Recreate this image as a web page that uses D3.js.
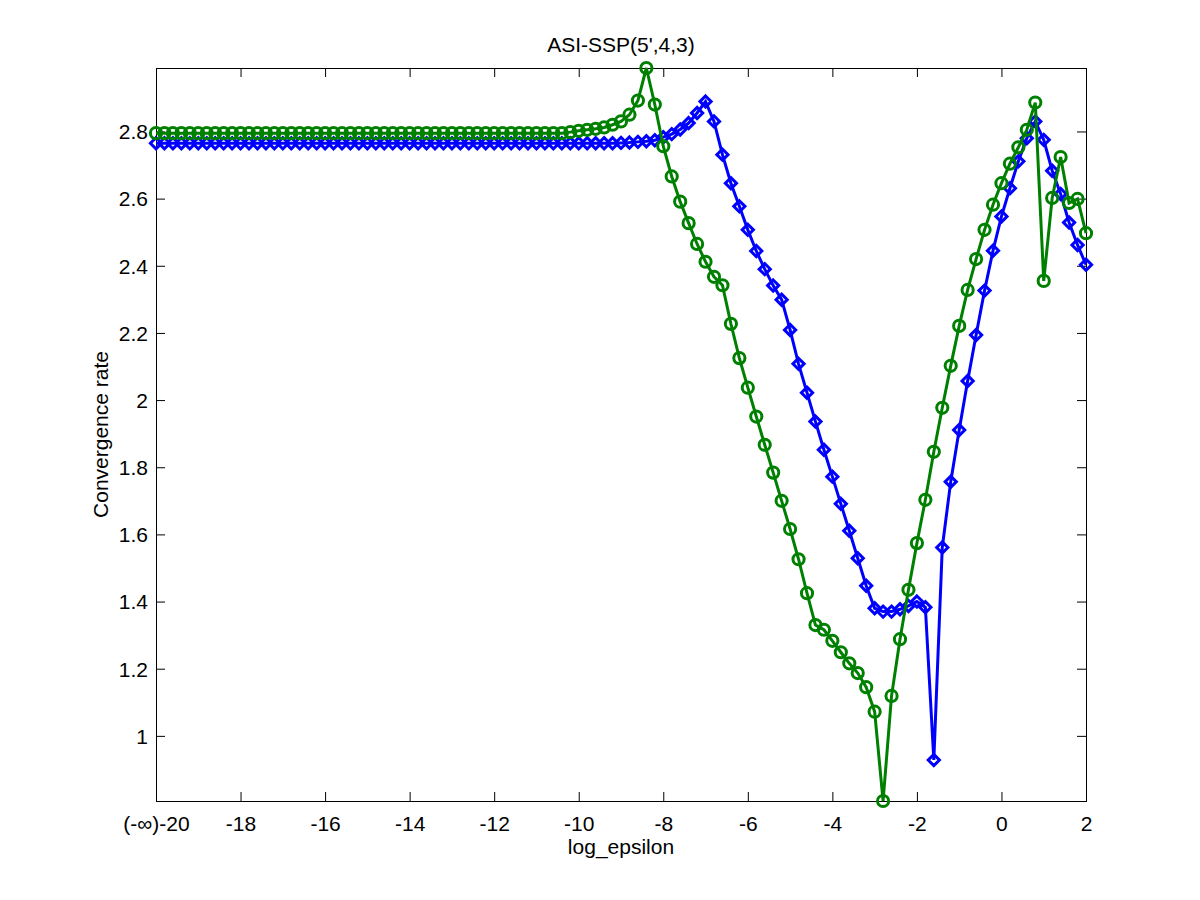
<!DOCTYPE html>
<html>
<head>
<meta charset="utf-8">
<script src="https://cdn.jsdelivr.net/npm/d3@7"></script>
<style>
  body { margin: 0; background: #fff; }
  svg text { font-family: "Liberation Sans", Arial, sans-serif; fill: #000; }
</style>
</head>
<body>
<svg id="chart"></svg>
<script>
// log epsilon grid (step 0.2)
const logEps = [
  -20, -19.8, -19.6, -19.4, -19.2, -19, -18.8, -18.6, -18.4, -18.2,
  -18, -17.8, -17.6, -17.4, -17.2, -17, -16.8, -16.6, -16.4, -16.2,
  -16, -15.8, -15.6, -15.4, -15.2, -15, -14.8, -14.6, -14.4, -14.2,
  -14, -13.8, -13.6, -13.4, -13.2, -13, -12.8, -12.6, -12.4, -12.2,
  -12, -11.8, -11.6, -11.4, -11.2, -11, -10.8, -10.6, -10.4, -10.2,
  -10, -9.8, -9.6, -9.4, -9.2, -9, -8.8, -8.6, -8.4, -8.2,
  -8, -7.8, -7.6, -7.4, -7.2, -7, -6.8, -6.6, -6.4, -6.2,
  -6, -5.8, -5.6, -5.4, -5.2, -5, -4.8, -4.6, -4.4, -4.2,
  -4, -3.8, -3.6, -3.4, -3.2, -3, -2.8, -2.6, -2.4, -2.2,
  -2, -1.8, -1.6, -1.4, -1.2, -1, -0.8, -0.6, -0.4, -0.2,
  0, 0.2, 0.4, 0.6, 0.8, 1, 1.2, 1.4, 1.6, 1.8,
  2
];

// blue diamonds
const rateBlue = [
  2.765, 2.765, 2.765, 2.765, 2.765, 2.765, 2.765, 2.765, 2.765, 2.765,
  2.765, 2.765, 2.765, 2.765, 2.765, 2.765, 2.765, 2.765, 2.765, 2.765,
  2.765, 2.765, 2.765, 2.765, 2.765, 2.765, 2.765, 2.765, 2.765, 2.765,
  2.765, 2.765, 2.765, 2.765, 2.765, 2.765, 2.765, 2.765, 2.765, 2.765,
  2.765, 2.765, 2.765, 2.765, 2.765, 2.765, 2.765, 2.765, 2.765, 2.765,
  2.765, 2.765, 2.765, 2.765, 2.765, 2.766, 2.767, 2.769, 2.771, 2.774,
  2.783, 2.792, 2.806, 2.825, 2.855, 2.889, 2.830, 2.731, 2.646, 2.577,
  2.507, 2.444, 2.390, 2.341, 2.299, 2.209, 2.108, 2.022, 1.936, 1.852,
  1.772, 1.691, 1.611, 1.529, 1.447, 1.380, 1.370, 1.370, 1.377, 1.387,
  1.400, 1.383, 0.928, 1.561, 1.757, 1.911, 2.057, 2.194, 2.326, 2.445,
  2.547, 2.631, 2.711, 2.780, 2.830, 2.775, 2.683, 2.614, 2.529, 2.462,
  2.403
];

// green circles
const rateGreen = [
  2.795, 2.795, 2.795, 2.795, 2.795, 2.795, 2.795, 2.795, 2.795, 2.795,
  2.795, 2.795, 2.795, 2.795, 2.795, 2.795, 2.795, 2.795, 2.795, 2.795,
  2.795, 2.795, 2.795, 2.795, 2.795, 2.795, 2.795, 2.795, 2.795, 2.795,
  2.795, 2.795, 2.795, 2.795, 2.795, 2.795, 2.795, 2.795, 2.795, 2.795,
  2.795, 2.795, 2.795, 2.795, 2.795, 2.795, 2.795, 2.795, 2.795, 2.798,
  2.802, 2.805, 2.808, 2.812, 2.820, 2.830, 2.850, 2.892, 2.989, 2.880,
  2.756, 2.666, 2.591, 2.527, 2.465, 2.412, 2.367, 2.342, 2.227, 2.125,
  2.037, 1.951, 1.867, 1.784, 1.700, 1.616, 1.526, 1.425, 1.330, 1.316,
  1.283, 1.249, 1.216, 1.187, 1.145, 1.072, 0.806, 1.119, 1.288, 1.435,
  1.574, 1.703, 1.846, 1.977, 2.102, 2.221, 2.328, 2.420, 2.507, 2.582,
  2.646, 2.704, 2.753, 2.805, 2.886, 2.355, 2.602, 2.724, 2.587, 2.599,
  2.497
];

const xTicks = [-20, -18, -16, -14, -12, -10, -8, -6, -4, -2, 0, 2];
const yTicks = [1, 1.2, 1.4, 1.6, 1.8, 2, 2.2, 2.4, 2.6, 2.8];

const width = 1200;
const height = 900;
const margin = { top: 68, right: 114, bottom: 99, left: 156 };

const svg = d3.select("#chart")
  .attr("width", width)
  .attr("height", height);

const x = d3.scaleLinear()
  .domain([-20, 2])
  .range([margin.left, width - margin.right]);

// y limits are tight to the data, like the original
const y = d3.scaleLinear()
  .domain(d3.extent(rateBlue.concat(rateGreen)))
  .range([height - margin.bottom, margin.top]);

const x0 = x.range()[0], x1 = x.range()[1];
const y0 = y.range()[0], y1 = y.range()[1];
const tickLen = 9;
const fontSize = 21;

// axes (ticks point inward, mirrored on top/right); plain hyphen for minus
const xAxisBottom = d3.axisBottom(x).tickValues(xTicks).tickSize(-tickLen).tickPadding(0)
  .tickFormat(d => d === -20 ? "(-\u221e)-20" : String(d));
const xAxisTop = d3.axisTop(x).tickValues(xTicks).tickSize(-tickLen).tickFormat("");
const yAxisLeft = d3.axisLeft(y).tickValues(yTicks).tickSize(-tickLen).tickPadding(0)
  .tickFormat(d => String(d));
const yAxisRight = d3.axisRight(y).tickValues(yTicks).tickSize(-tickLen).tickFormat("");

function styleAxis(g) {
  g.select(".domain").remove();
  g.selectAll(".tick line").attr("stroke", "#000").attr("stroke-width", 1);
  g.selectAll(".tick text")
    .attr("font-size", fontSize)
    .attr("font-family", "Liberation Sans, Arial, sans-serif")
    .attr("fill", "#000");
}

const gx = svg.append("g").attr("transform", `translate(0,${y0})`).call(xAxisBottom).call(styleAxis);
gx.selectAll(".tick text").attr("y", 0).attr("dy", 30);

svg.append("g").attr("transform", `translate(0,${y1})`).call(xAxisTop).call(styleAxis);

const gy = svg.append("g").attr("transform", `translate(${x0},0)`).call(yAxisLeft).call(styleAxis);
gy.selectAll(".tick text").attr("x", -8).attr("dy", "0.35em");

svg.append("g").attr("transform", `translate(${x1},0)`).call(yAxisRight).call(styleAxis);

// box
svg.append("rect")
  .attr("x", x0 + 0.5)
  .attr("y", y1 + 0.5)
  .attr("width", x1 - x0)
  .attr("height", y0 - y1)
  .attr("fill", "none")
  .attr("stroke", "#000")
  .attr("stroke-width", 1);

const line = d3.line()
  .x((d, i) => x(logEps[i]))
  .y(d => y(d));

const plot = svg.append("g");
const lw = 3;

// blue series with diamond markers
plot.append("path")
  .datum(rateBlue)
  .attr("fill", "none")
  .attr("stroke", "#0000ff")
  .attr("stroke-width", lw)
  .attr("d", line);

const dm = 5.6;
plot.append("g")
  .selectAll("path")
  .data(rateBlue)
  .join("path")
  .attr("d", `M0,${-dm}L${dm},0L0,${dm}L${-dm},0Z`)
  .attr("transform", (d, i) => `translate(${x(logEps[i])},${y(d)})`)
  .attr("fill", "none")
  .attr("stroke", "#0000ff")
  .attr("stroke-width", lw);

// green series with circle markers
plot.append("path")
  .datum(rateGreen)
  .attr("fill", "none")
  .attr("stroke", "#008000")
  .attr("stroke-width", lw)
  .attr("d", line);

plot.append("g")
  .selectAll("circle")
  .data(rateGreen)
  .join("circle")
  .attr("cx", (d, i) => x(logEps[i]))
  .attr("cy", d => y(d))
  .attr("r", 5.6)
  .attr("fill", "none")
  .attr("stroke", "#008000")
  .attr("stroke-width", lw);

// labels
svg.append("text")
  .attr("x", (x0 + x1) / 2)
  .attr("y", 52)
  .attr("text-anchor", "middle")
  .attr("font-size", fontSize)
  .text("ASI-SSP(5',4,3)");

svg.append("text")
  .attr("x", (x0 + x1) / 2)
  .attr("y", 854)
  .attr("text-anchor", "middle")
  .attr("font-size", fontSize)
  .text("log_epsilon");

svg.append("text")
  .attr("transform", `translate(108,${(y0 + y1) / 2}) rotate(-90)`)
  .attr("text-anchor", "middle")
  .attr("font-size", fontSize)
  .text("Convergence rate");
</script>
</body>
</html>
